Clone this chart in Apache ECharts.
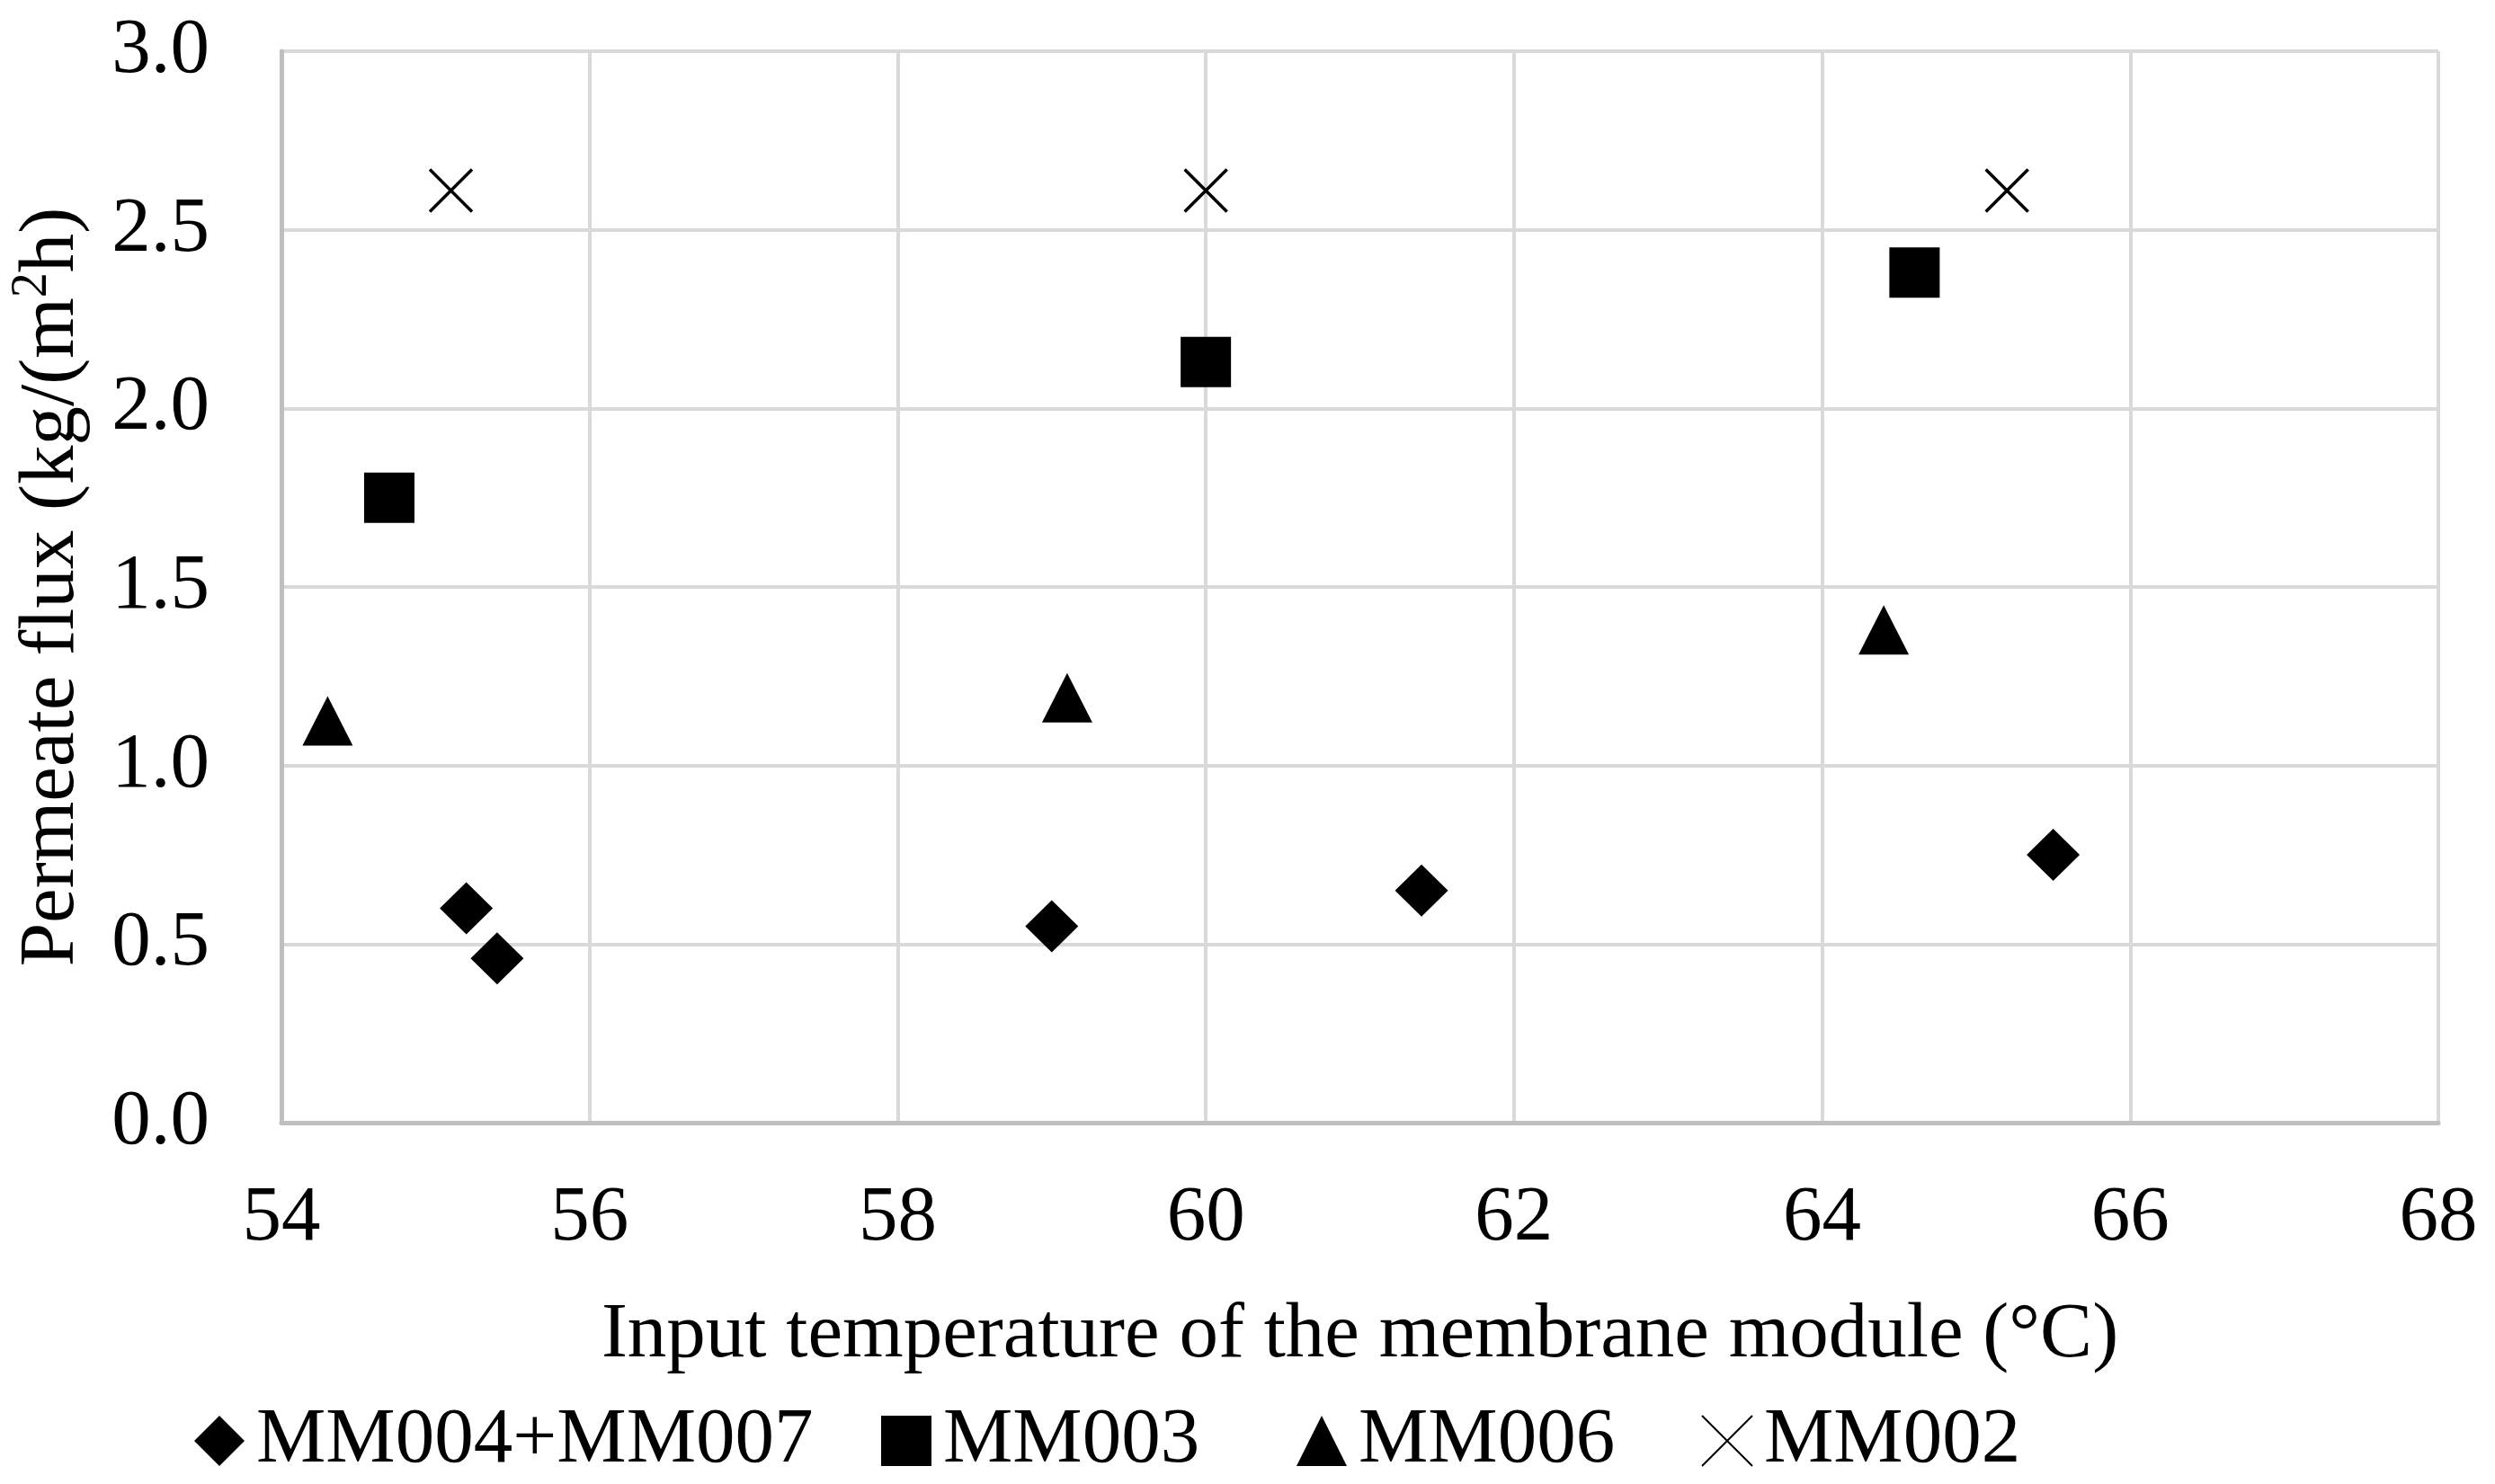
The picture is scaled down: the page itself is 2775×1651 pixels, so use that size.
<!DOCTYPE html>
<html>
<head>
<meta charset="utf-8">
<script src="https://cdn.jsdelivr.net/npm/echarts@6/dist/echarts.min.js"></script>
<style>
html,body{margin:0;padding:0;background:#fff;}
#chart{width:2775px;height:1651px;}
</style>
</head>
<body>
<div id="chart"></div>
<script>
// ---- data ----
const seriesNames = ['MM004+MM007', 'MM003', 'MM006', 'MM002'];
const tempMM004_007 = [55.2, 55.4, 59.0, 61.4, 65.5];
const fluxMM004_007 = [0.60, 0.46, 0.55, 0.65, 0.75];
const tempMM003 = [54.7, 60.0, 64.6];
const fluxMM003 = [1.75, 2.13, 2.38];
const tempMM006 = [54.3, 59.1, 64.4];
const fluxMM006 = [1.125, 1.19, 1.38];
const tempMM002 = [55.1, 60.0, 65.2];
const fluxMM002 = [2.61, 2.61, 2.61];
const xTicks = [54, 56, 58, 60, 62, 64, 66, 68];
const yTicks = ['0.0', '0.5', '1.0', '1.5', '2.0', '2.5', '3.0'];

function pairs(xs, ys) { return xs.map((x, i) => [x, ys[i]]); }

const FONT = '"Liberation Serif", "Times New Roman", serif';
const FS = 87;
const legendLefts = [211, 975, 1437, 1887];
const chart = echarts.init(document.getElementById('chart'), null, {renderer: 'canvas'});
const crossPath = 'path://M0,0 L10,10 M10,0 L0,10';

chart.setOption({
  animation: false,
  backgroundColor: '#ffffff',
  textStyle: {fontFamily: FONT, color: '#000'},
  grid: {left: 313, top: 57, width: 2399, height: 1192, containLabel: false},
  xAxis: {
    type: 'value', min: xTicks[0], max: xTicks[xTicks.length - 1], interval: 2,
    axisLine: {show: true, lineStyle: {color: '#bfbfbf', width: 5}},
    axisTick: {show: false},
    splitLine: {show: true, lineStyle: {color: '#d9d9d9', width: 4}},
    axisLabel: {fontFamily: FONT, fontSize: FS, color: '#000', margin: 64},
    name: 'Input temperature of the membrane module (°C)',
    nameLocation: 'middle', nameGap: 194,
    nameTextStyle: {fontFamily: FONT, fontSize: FS, color: '#000'}
  },
  yAxis: {
    type: 'value', min: 0, max: 3, interval: 0.5,
    axisLine: {show: true, lineStyle: {color: '#bfbfbf', width: 5}},
    axisTick: {show: false},
    splitLine: {show: true, lineStyle: {color: '#d9d9d9', width: 4}},
    axisLabel: {fontFamily: FONT, fontSize: FS, color: '#000', margin: 80,
      formatter: v => yTicks[Math.round(v / 0.5)]},
    name: 'Permeate flux (kg/(m{sup|2}h)',
    nameLocation: 'middle', nameGap: 205,
    nameTextStyle: {fontFamily: FONT, fontSize: FS, color: '#000', lineHeight: 100,
      rich: {sup: {fontFamily: FONT, fontSize: 56, color: '#000', verticalAlign: 'top', lineHeight: 60}}}
  },
  legend: seriesNames.map((n, i) => ({
    left: legendLefts[i], top: 1553, orient: 'horizontal',
    itemWidth: 56, itemHeight: 56,
    textStyle: {fontFamily: FONT, fontSize: FS, color: '#000', lineHeight: 90, padding: [0, 0, 0, 8]},
    data: [n]
  })),
  series: [
    {name: seriesNames[0], type: 'scatter', symbol: 'diamond', symbolSize: [59, 58],
     itemStyle: {color: '#000', opacity: 1}, data: pairs(tempMM004_007, fluxMM004_007)},
    {name: seriesNames[1], type: 'scatter', symbol: 'rect', symbolSize: [56, 56],
     itemStyle: {color: '#000', opacity: 1}, data: pairs(tempMM003, fluxMM003)},
    {name: seriesNames[2], type: 'scatter', symbol: 'triangle', symbolSize: [56, 55],
     itemStyle: {color: '#000', opacity: 1}, data: pairs(tempMM006, fluxMM006)},
    {name: seriesNames[3], type: 'scatter', symbol: crossPath, symbolSize: [47, 47],
     itemStyle: {color: 'rgba(0,0,0,0)', borderColor: '#000', borderWidth: 3.5, opacity: 1},
     data: pairs(tempMM002, fluxMM002)}
  ]
});
</script>
</body>
</html>
